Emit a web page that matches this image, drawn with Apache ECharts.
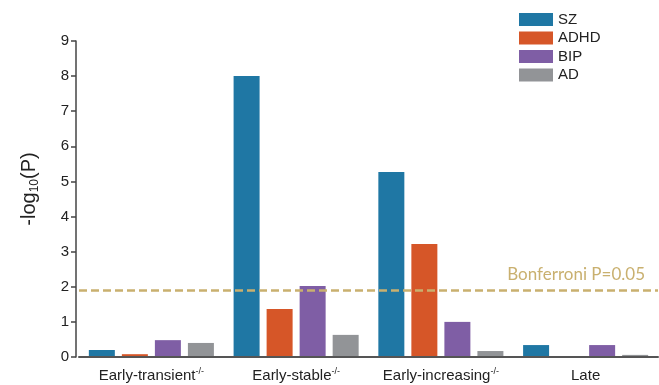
<!DOCTYPE html>
<html>
<head>
<meta charset="utf-8">
<script src="https://cdn.jsdelivr.net/npm/echarts@6/dist/echarts.min.js"></script>
<style>
  html, body { margin: 0; padding: 0; background: #fff; }
  #chart { width: 659px; height: 385px; }
</style>
</head>
<body>
<div id="chart"></div>
<script>
// Trajectory groups on the x axis
const categories = ['Early-transient', 'Early-stable', 'Early-increasing', 'Late'];
const knockoutMark = [true, true, true, false];

// -log10(P) per disorder
const sz   = [0.20, 8.00, 5.27, 0.34];
const adhd = [0.08, 1.37, 3.22, 0.00];
const bip  = [0.48, 2.02, 1.00, 0.34];
const ad   = [0.40, 0.63, 0.17, 0.06];

const yTicks = [0, 1, 2, 3, 4, 5, 6, 7, 8, 9];

// Bonferroni threshold: P = 0.05 over four trajectory groups
const bonferroniP = 0.05;
const nTests = 4;
const threshold = -Math.log10(bonferroniP / nTests);

const colors = {
  SZ: '#1f77a4',
  ADHD: '#d65628',
  BIP: '#7f5ea5',
  AD: '#929497'
};
const gold = '#c9b06f';
const font = '"Liberation Sans", Arial, Helvetica, sans-serif';

function barSeries(name, data) {
  return {
    name: name,
    type: 'bar',
    data: data,
    barWidth: 26,
    barGap: '27%',
    itemStyle: { color: colors[name] }
  };
}

const series = [
  barSeries('SZ', sz),
  barSeries('ADHD', adhd),
  barSeries('BIP', bip),
  barSeries('AD', ad)
];

series[0].markLine = {
  silent: true,
  symbol: ['none', 'none'],
  lineStyle: { color: gold, type: [8, 4], width: 2.6 },
  label: {
    show: true,
    position: 'insideEndTop',
    formatter: 'Bonferroni P=' + bonferroniP.toFixed(2),
    color: gold,
    fontFamily: 'Lato, "Liberation Sans", sans-serif',
    fontSize: 17,
    padding: [0, 8, 2, 0]
  },
  data: [{ yAxis: threshold }]
};

const chart = echarts.init(document.getElementById('chart'), null, { renderer: 'canvas' });

chart.setOption({
  animation: false,
  backgroundColor: '#ffffff',
  textStyle: { fontFamily: font },
  grid: { left: 79, right: 1, top: 41, bottom: 28, containLabel: false },
  legend: {
    orient: 'vertical',
    left: 519,
    top: 12,
    padding: 0,
    itemWidth: 34,
    itemHeight: 13,
    itemGap: 3.5,
    icon: 'rect',
    textStyle: { fontSize: 15, color: '#222', fontFamily: font, lineHeight: 15, padding: [0, 0, 0, -0] },
    data: ['SZ', 'ADHD', 'BIP', 'AD']
  },
  xAxis: {
    type: 'category',
    data: categories,
    z: 10,
    axisLine: { lineStyle: { color: '#555', width: 2 } },
    axisTick: { show: false },
    axisLabel: {
      margin: 10,
      interval: 0,
      formatter: function (v, i) {
        return knockoutMark[i] ? '{a|' + v + '}{s|-/-}' : '{a|' + v + '}';
      },
      rich: {
        a: { fontSize: 15, color: '#222', fontFamily: font, lineHeight: 18 },
        s: { fontSize: 9, color: '#222', fontFamily: font, verticalAlign: 'top', lineHeight: 18, padding: [0, 0, 8, 0] }
      }
    }
  },
  yAxis: {
    type: 'value',
    min: yTicks[0],
    max: yTicks[yTicks.length - 1],
    interval: 1,
    offset: 3,
    splitLine: { show: false },
    axisLine: { show: true, lineStyle: { color: '#444', width: 1.5 } },
    axisTick: { show: true, length: 5, lineStyle: { color: '#444', width: 1.5 } },
    axisLabel: { fontSize: 15, color: '#222', margin: 7, fontFamily: font }
  },
  graphic: [{
    type: 'text',
    x: 29,
    y: 189,
    rotation: Math.PI / 2,
    style: {
      text: '{a|-log}{s|10}{a|(P)}',
      align: 'center',
      verticalAlign: 'middle',
      rich: {
        a: { fontSize: 20, fill: '#222', fontFamily: font, lineHeight: 24 },
        s: { fontSize: 12, fill: '#222', fontFamily: font, lineHeight: 24, verticalAlign: 'bottom', padding: [6, 0, 0, 0] }
      }
    }
  }],
  series: series
});
</script>
</body>
</html>
